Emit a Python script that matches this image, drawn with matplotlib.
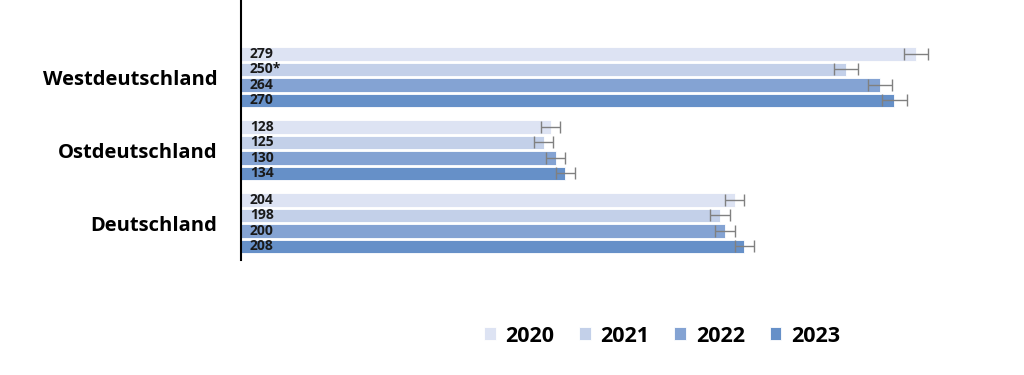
import numpy as np
import matplotlib.pyplot as plt

regions = ['Westdeutschland', 'Ostdeutschland', 'Deutschland']
years = ['2020', '2021', '2022', '2023']
values = {
    '2020': [279, 128, 204],
    '2021': [250, 125, 198],
    '2022': [264, 130, 200],
    '2023': [270, 134, 208],
}
labels = {
    '2020': ['279', '128', '204'],
    '2021': ['250*', '125', '198'],
    '2022': ['264', '130', '200'],
    '2023': ['270', '134', '208'],
}
errors = [5, 4, 4]
colors = ['#dde3f3', '#c3d0e9', '#84a3d3', '#6690c8']

plt.rcParams['font.family'] = ['Open Sans', 'DejaVu Sans']

fig = plt.figure(figsize=(10.24, 3.75), dpi=100)
ax = fig.add_axes([241/1024, 1 - 260/375, 726/1024, 260/375])

pitch = 15.5 / 73
height = 13.5 / 73
ypos = np.arange(len(regions))

for i, yr in enumerate(years):
    y = ypos + (i - 1.5) * pitch
    ax.barh(y, values[yr], height=height, color=colors[i], edgecolor='white',
            linewidth=0.6, label=yr,
            xerr=errors, error_kw=dict(ecolor='#808080', elinewidth=1, capsize=4, capthick=1))
    for yy, lab in zip(y, labels[yr]):
        ax.text(3.7, yy, lab, ha='left', va='center', fontsize=10,
                fontweight='bold', color='#1a1a1a')

ax.set_xlim(0, 300)
ax.set_ylim(2 + 37/73, -77/73)
ax.set_yticks(ypos)
ax.set_yticklabels(regions, fontsize=14.5, fontweight='bold')
ax.tick_params(axis='y', length=0, pad=17)
ax.set_xticks([])
for s in ['top', 'right', 'bottom']:
    ax.spines[s].set_visible(False)
ax.spines['left'].set_linewidth(1.5)

fig.legend(loc='center', bbox_to_anchor=(662/1024, 1 - 336/375), ncol=4,
           frameon=False, prop={'size': 15.5, 'weight': 'bold'},
           handlelength=0.55, handleheight=0.55, columnspacing=1.15, handletextpad=0.45)

fig.savefig('out.png', dpi=100)
